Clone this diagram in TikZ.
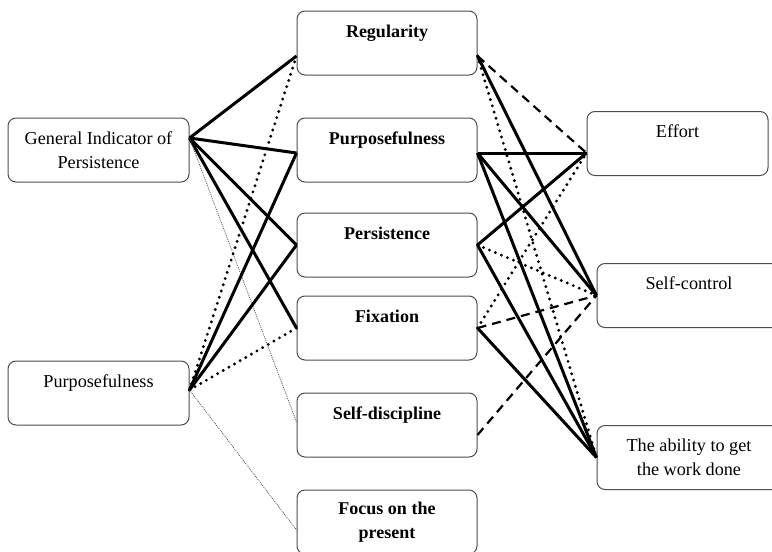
\documentclass[tikz,border=0pt]{standalone}
\usepackage{fontspec}
\setmainfont{Liberation Serif}

\tikzset{
  box/.style={draw=black!70, line width=1pt, rounded corners=8pt, minimum height=64pt, minimum width=181pt, align=center, font=\fontsize{18.2}{24}\selectfont},
  midbox/.style={box, minimum width=180pt, font=\fontsize{18}{24}\selectfont\bfseries},
  solidlink/.style={line width=3pt},
  dotlink/.style={line width=3.2pt, line cap=round, dash pattern=on 0pt off 6.5pt},
  dashlink/.style={line width=2.2pt, dash pattern=on 9pt off 6pt},
  thinlink/.style={line width=0.7pt, dash pattern=on 1pt off 1pt, black!70},
}

\begin{document}
\begin{tikzpicture}[x=1pt, y=-1pt]
  \useasboundingbox (0,0) rectangle (772,552);
  % \draw[step=50pt, gray!20!white, very thin] (0,0) grid (772,552);

  \node[box] at (98.5, 150) (gip)  {General Indicator of\\Persistence};
  \node[box] at (98.5, 393) (lpur) {Purposefulness\\~};

  \node[midbox] at (387, 43)  (reg) {Regularity\\~};
  \node[midbox] at (387, 150) (pur) {Purposefulness\\~};
  \node[midbox] at (387, 245) (per) {Persistence\\~};
  \node[midbox] at (387, 328) (fix) {Fixation\\~};
  \node[midbox] at (387, 425) (sdi) {Self-discipline\\~};
  \node[midbox] at (387, 522) (foc) {Focus on the\\present};

  \node[box] at (677.5, 143.5) (eff) {Effort\\~};
  \node[box, minimum width=184pt] at (689, 295.5) (sco) {Self-control\\~};
  \node[box, minimum width=184pt] at (689, 457.5) (abl) {The ability to get\\the work done};

  \draw [solidlink] ([yshift=12pt]gip.east) -- ([yshift=-13pt]reg.west);
  \draw [solidlink] ([yshift=12pt]gip.east) -- ([yshift=-3pt]pur.west);
  \draw [solidlink] ([yshift=12pt]gip.east) -- (per.west);
  \draw [solidlink] ([yshift=12pt]gip.east) -- (fix.west);
  \draw [thinlink]  ([yshift=12pt]gip.east) -- ([yshift=3pt]sdi.west);

  \draw [dotlink]   ([yshift=3pt]lpur.east) -- ([yshift=-13pt]reg.west);
  \draw [solidlink] ([yshift=3pt]lpur.east) -- ([yshift=-3pt]pur.west);
  \draw [solidlink] ([yshift=3pt]lpur.east) -- (per.west);
  \draw [dotlink]   ([yshift=3pt]lpur.east) -- (fix.west);
  \draw [thinlink]  ([yshift=3pt]lpur.east) -- ([yshift=-8pt]foc.west);

  \draw [dashlink]  ([yshift=-13pt]reg.east) -- ([yshift=-9.5pt]eff.west);
  \draw [solidlink] ([yshift=-13pt]reg.east) -- (sco.west);
  \draw [dotlink]   ([yshift=-13pt]reg.east) -- (abl.west);

  \draw [solidlink] ([yshift=-3pt]pur.east) -- ([yshift=-9.5pt]eff.west);
  \draw [solidlink] ([yshift=-3pt]pur.east) -- (sco.west);
  \draw [solidlink] ([yshift=-3pt]pur.east) -- (abl.west);

  \draw [solidlink] (per.east) -- ([yshift=-9.5pt]eff.west);
  \draw [dotlink]   (per.east) -- (sco.west);
  \draw [solidlink] (per.east) -- (abl.west);

  \draw [dotlink]   (fix.east) -- ([yshift=-9.5pt]eff.west);
  \draw [dashlink]  (fix.east) -- (sco.west);
  \draw [solidlink] (fix.east) -- (abl.west);

  \draw [dashlink]  ([yshift=-10pt]sdi.east) -- (sco.west);

\end{tikzpicture}
\end{document}
